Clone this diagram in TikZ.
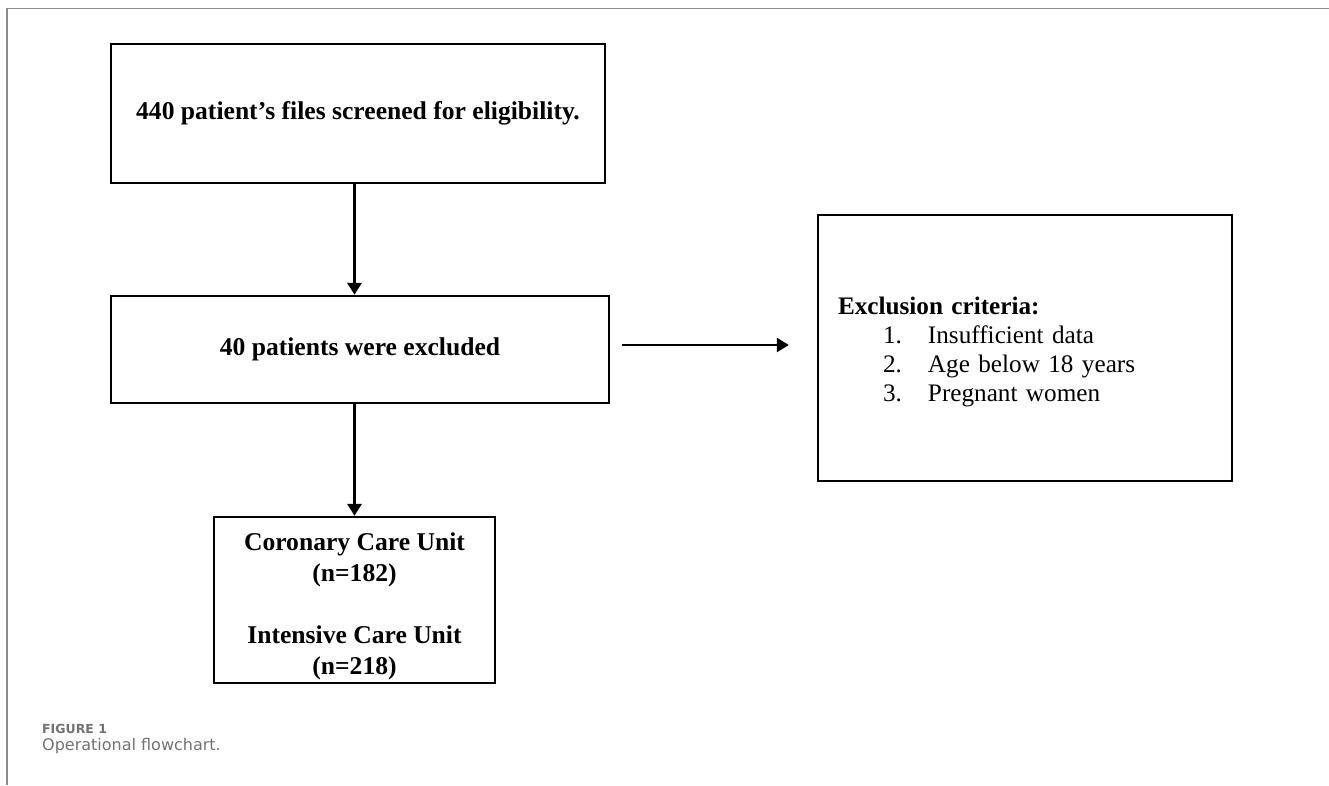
\documentclass[tikz,border=0pt]{standalone}
\usepackage{fontspec}
\setmainfont{Liberation Serif}
\newfontfamily\capfont{DejaVu Sans}
\usepackage{xcolor}
\usetikzlibrary{arrows.meta,positioning,calc}
\definecolor{framegray}{HTML}{8C8C8C}
\definecolor{capgray}{HTML}{727272}

\begin{document}
\begin{tikzpicture}[x=1pt, y=-1pt, >={Triangle[length=12pt,width=14pt]},
  every node/.style={font=\fontsize{25.6}{31}\selectfont\bfseries,align=center},
  box/.style={draw,line width=2.4pt,inner sep=0pt}]
\useasboundingbox (0,0) rectangle (1329,785);
\draw[framegray,line width=1.2pt] (7,785) -- (7,8.5) -- (1329,8.5);

\node (screen) [box,minimum width=494pt,minimum height=139pt] at (358,113.5) {440 patient’s files screened for eligibility.};
\node (excl) [box,minimum width=498pt,minimum height=107pt] at (360,349.5) {40 patients were excluded};
\node (crit) [box,minimum width=414pt,minimum height=266pt,text width=374pt,align=left,
  font=\fontsize{25.2}{29}\selectfont] at (1025,348)
  {\rule{0pt}{26pt}{\bfseries Exclusion criteria:}\\
   \hspace*{45pt}\makebox[45pt][l]{1.}Insufficient data\\
   \hspace*{45pt}\makebox[45pt][l]{2.}Age below 18 years\\
   \hspace*{45pt}\makebox[45pt][l]{3.}Pregnant women};
\node (units) [box,minimum width=281pt,minimum height=166pt] at (354.5,600)
  {\rule{0pt}{30pt}Coronary Care Unit\\(n=182)\\[31pt]Intensive Care Unit\\(n=218)};

\draw[->,line width=3pt] (screen.south -| units.north) -- (excl.north -| units.north);
\draw[->,line width=3pt] (excl.south -| units.north) -- (units.north);
\draw[->,line width=2.4pt] ([xshift=12pt,yshift=4.5pt]excl.east) -- ([xshift=-28pt,yshift=3pt]crit.west);

% caption
\node (fig) [anchor=base west,inner sep=0pt,text=capgray,font=\capfont\fontsize{12.5}{15}\selectfont\bfseries] at (42,733) {FIGURE 1};
\node (cap) [anchor=base west,inner sep=0pt,text=capgray,font=\capfont\fontsize{16}{19}\selectfont] at ([yshift=-17pt]fig.base west) {Operational flowchart.};
\end{tikzpicture}
\end{document}
